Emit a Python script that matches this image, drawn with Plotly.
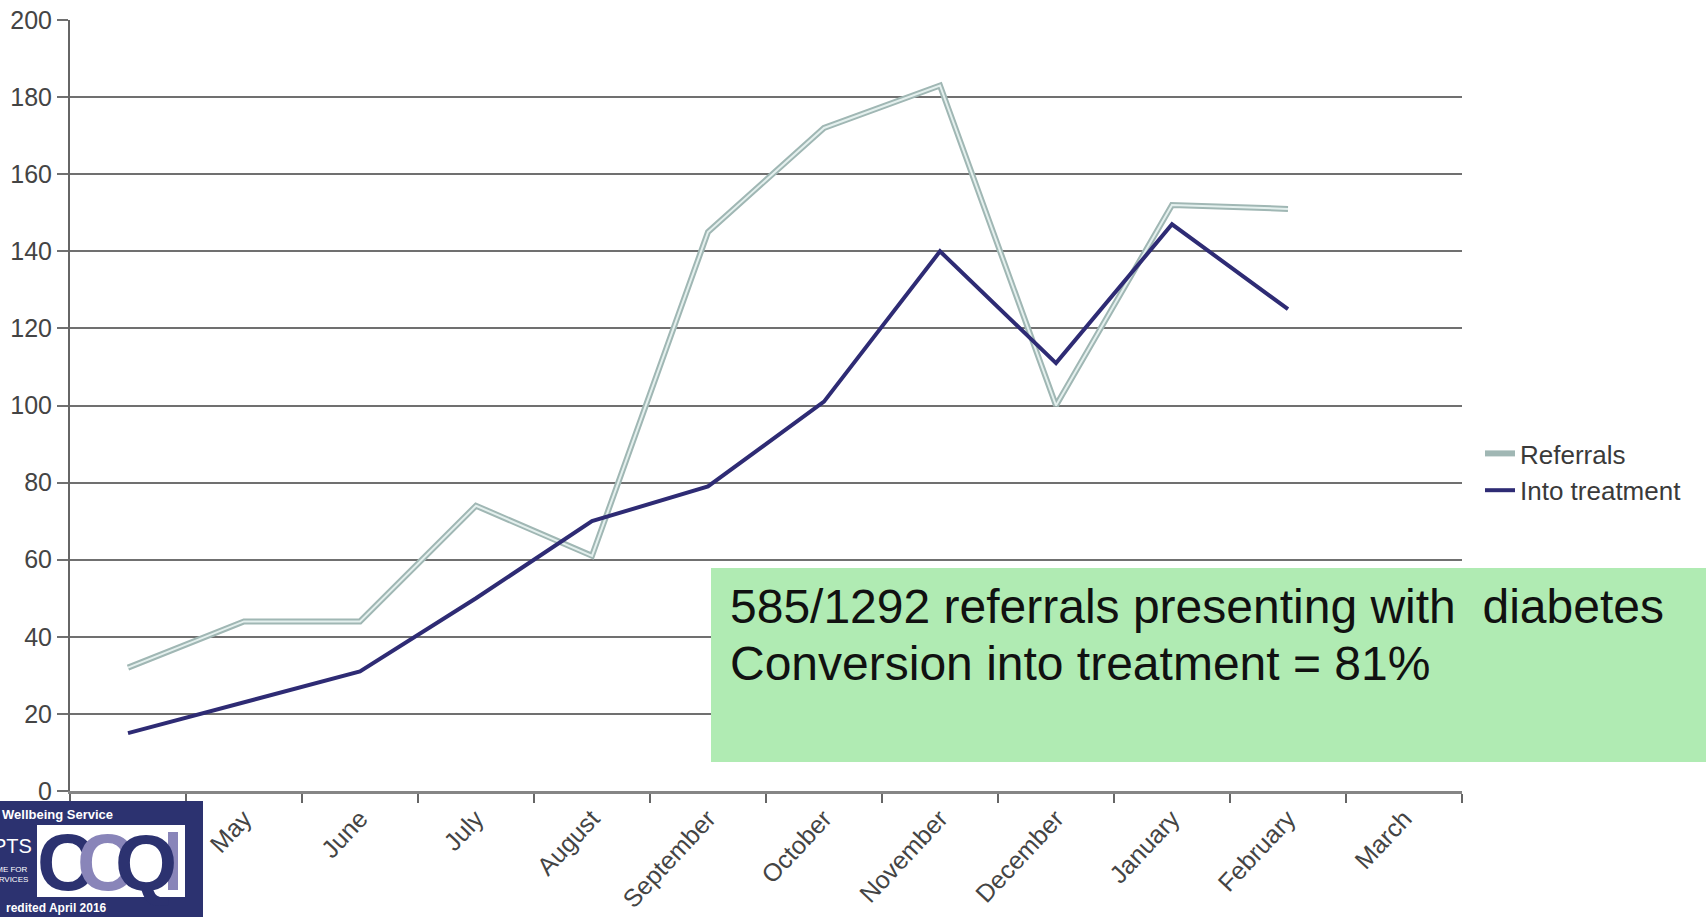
import plotly.graph_objects as go

# ---- data ----
months = ["April", "May", "June", "July", "August", "September", "October",
          "November", "December", "January", "February", "March"]
referrals = [32, 44, 44, 74, 61, 145, 172, 183, 100, 152, 151]
into_treatment = [15, 23, 31, 50, 70, 79, 101, 140, 111, 147, 125]
y_ticks = list(range(0, 201, 20))

W, H = 1706, 917
L, R, T, B = 70, 1462, 20, 791  # plot area in pixels


def px(x):
    return (x - L) / (R - L)


def py(y):
    return (B - y) / (B - T)


FONT = "Liberation Sans, Arial, sans-serif"

fig = go.Figure()

# Referrals: drawn as a hollow double line (outer stroke + pale core)
fig.add_trace(go.Scatter(
    x=months[:len(referrals)], y=referrals, name="Referrals", mode="lines",
    line=dict(color="#a0b7b4", width=6), legendgroup="ref"))
fig.add_trace(go.Scatter(
    x=months[:len(referrals)], y=referrals, name="Referrals", mode="lines",
    line=dict(color="#e4f0ee", width=2), legendgroup="ref", showlegend=False,
    hoverinfo="skip"))
fig.add_trace(go.Scatter(
    x=months[:len(into_treatment)], y=into_treatment, name="Into treatment",
    mode="lines", line=dict(color="#2e2b74", width=4)))

fig.update_layout(
    template="none",
    width=W, height=H,
    margin=dict(l=L, r=W - R, t=T, b=H - B, pad=0, autoexpand=False),
    paper_bgcolor="white", plot_bgcolor="white",
    font=dict(family=FONT, size=24, color="#3c3c3c"),
    showlegend=True,
    legend=dict(x=px(1480), y=py(430), xanchor="left", yanchor="top",
                font=dict(size=26, color="#3a3a3a"), bgcolor="rgba(0,0,0,0)",
                tracegroupgap=0, itemwidth=30, borderwidth=0),
    xaxis=dict(
        type="category", categoryorder="array", categoryarray=months,
        range=[-0.5, len(months) - 0.5], tickson="boundaries",
        tickangle=-47, showgrid=False, zeroline=False, automargin=False,
        showline=True, linecolor="#858585", linewidth=3,
        ticks="outside", ticklen=9, tickwidth=2, tickcolor="#666",
        tickfont=dict(size=25, color="#444"),
    ),
    yaxis=dict(
        range=[0, 200], tickvals=y_ticks, showgrid=True, automargin=False,
        gridcolor="#707070", gridwidth=2, zeroline=False,
        showline=True, linecolor="#666", linewidth=2,
        ticks="outside", ticklen=11, tickwidth=2, tickcolor="#707070",
        tickfont=dict(size=25, color="#444"),
    ),
)

shapes = []
annotations = []

# green call-out box
shapes.append(dict(type="rect", xref="paper", yref="paper", layer="above",
                   x0=px(711), x1=px(1706), y0=py(762), y1=py(568),
                   fillcolor="#b0ebb3", line=dict(width=0)))
annotations.append(dict(xref="paper", yref="paper", x=px(728), y=py(606),
                        xanchor="left", yanchor="middle", showarrow=False,
                        text="585/1292 referrals presenting with  diabetes",
                        font=dict(family=FONT, size=48, color="#111")))
annotations.append(dict(xref="paper", yref="paper", x=px(728), y=py(663),
                        xanchor="left", yanchor="middle", showarrow=False,
                        text="Conversion into treatment = 81%",
                        font=dict(family=FONT, size=48, color="#111")))

# accreditation badge in the lower-left corner
NAVY = "#2c3270"
LAV = "#8985b9"
shapes.append(dict(type="rect", xref="paper", yref="paper", layer="above",
                   x0=px(0), x1=px(203), y0=py(917), y1=py(801),
                   fillcolor=NAVY, line=dict(width=0)))
shapes.append(dict(type="rect", xref="paper", yref="paper", layer="above",
                   x0=px(37), x1=px(185), y0=py(897), y1=py(825),
                   fillcolor="white", line=dict(width=0)))
shapes.append(dict(type="rect", xref="paper", yref="paper", layer="above",
                   x0=px(168), x1=px(178), y0=py(890), y1=py(832),
                   fillcolor=LAV, line=dict(width=0)))

NARROW = "Liberation Sans Narrow, Liberation Sans, Arial, sans-serif"
for ch, xc, col in [("C", 66, NAVY), ("C", 106, LAV), ("Q", 146, NAVY)]:
    annotations.append(dict(xref="paper", yref="paper", x=px(xc), y=py(862),
                            xanchor="center", yanchor="middle",
                            showarrow=False, text="<b>%s</b>" % ch,
                            font=dict(family=NARROW, size=80, color=col)))

badge_text = [
    ("<b>Wellbeing Service</b>", 0, 815, "left", 13),
    ("PTS", 34, 846, "right", 20),
    ("IME FOR", 30, 869, "right", 8),
    ("SERVICES", 30, 879, "right", 8),
    ("<b>redited April 2016</b>", 4, 908, "left", 12),
]
for txt, x, y, anchor, size in badge_text:
    annotations.append(dict(xref="paper", yref="paper", x=px(x), y=py(y),
                            xanchor=anchor, yanchor="middle", showarrow=False,
                            text=txt,
                            font=dict(family=NARROW, size=size, color="white")))

fig.update_layout(shapes=shapes, annotations=annotations)

fig.write_html("out.html")
